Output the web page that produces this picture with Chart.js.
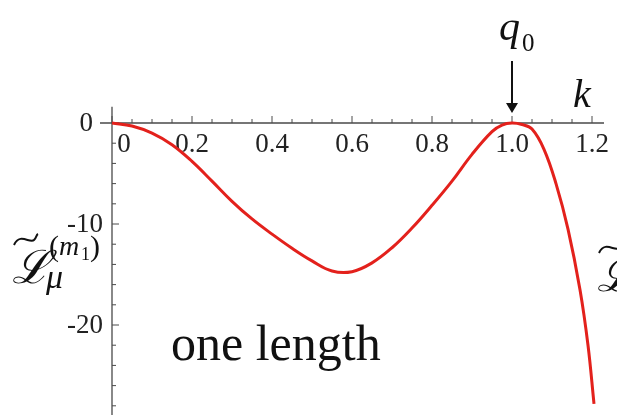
<!DOCTYPE html>
<html>
<head>
<meta charset="utf-8">
<script src="https://cdn.jsdelivr.net/npm/chart.js@4.4.0/dist/chart.umd.min.js"></script>
<style>
  html, body { margin: 0; padding: 0; background: #fff; }
  canvas { display: block; }
</style>
</head>
<body>
<canvas id="grafico" width="617" height="415"></canvas>
<script>
// datos
var kValues = [0, 0.05, 0.1, 0.15, 0.2, 0.25, 0.3, 0.35, 0.4, 0.45, 0.5, 0.55, 0.6, 0.65, 0.7, 0.75, 0.8, 0.85, 0.9, 0.95, 0.975, 1.0, 1.025, 1.05, 1.08, 1.11, 1.14, 1.17, 1.19, 1.205];
var lValues = [0, -0.3, -1.0, -2.15, -3.8, -5.75, -7.75, -9.5, -11.0, -12.4, -13.65, -14.65, -14.72, -13.85, -12.35, -10.4, -8.15, -5.75, -3.1, -0.85, -0.2, 0, -0.15, -0.6, -2.6, -6.0, -10.5, -16.5, -22, -27.8];

var xTicks = [0, 0.2, 0.4, 0.6, 0.8, 1.0, 1.2];
var xTickLabels = ["0", "0.2", "0.4", "0.6", "0.8", "1.0", "1.2"];
var yTicks = [0, -10, -20];
var yTickLabels = ["0", "-10", "-20"];
var markerK = 1.0;

var puntos = [];
for (var i = 0; i < kValues.length; i++) {
    puntos.push({ x: kValues[i], y: lValues[i] });
}

var SERIF = "'Liberation Serif', 'DejaVu Serif', serif";

// ejes tipo Mathematica, dibujados con las escalas de Chart.js
var ejes = {
    id: 'ejes',
    beforeDatasetsDraw: function(chart) {
        var ctx = chart.ctx;
        var sx = chart.scales.x, sy = chart.scales.y;
        var x0 = sx.getPixelForValue(0), y0 = sy.getPixelForValue(0);
        ctx.save();
        ctx.strokeStyle = '#4a4a4a';
        ctx.lineWidth = 1.3;
        ctx.beginPath();
        ctx.moveTo(sx.getPixelForValue(-0.03), y0);
        ctx.lineTo(sx.getPixelForValue(1.23), y0);
        ctx.moveTo(x0, sy.getPixelForValue(1.6));
        ctx.lineTo(x0, chart.height);
        ctx.stroke();

        ctx.lineWidth = 1;
        ctx.beginPath();
        for (var k = 0; k <= 1.2001; k += 0.05) {
            var px = sx.getPixelForValue(k);
            var major = Math.abs(k / 0.2 - Math.round(k / 0.2)) < 1e-6;
            ctx.moveTo(px, y0);
            ctx.lineTo(px, y0 - (major ? 7 : 4));
        }
        for (var v = 0; v >= -28; v -= 2) {
            var py = sy.getPixelForValue(v);
            var majorY = v % 10 === 0;
            ctx.moveTo(x0, py);
            ctx.lineTo(x0 + (majorY ? 7 : 4), py);
        }
        ctx.stroke();

        ctx.fillStyle = '#222';
        ctx.font = '27px ' + SERIF;
        ctx.textAlign = 'center';
        ctx.textBaseline = 'alphabetic';
        for (var j = 0; j < xTicks.length; j++) {
            var off = xTicks[j] === 0 ? 12 : 0;
            ctx.fillText(xTickLabels[j], sx.getPixelForValue(xTicks[j]) + off, y0 + 29);
        }
        ctx.textAlign = 'right';
        ctx.textBaseline = 'middle';
        for (var m = 0; m < yTicks.length; m++) {
            var rx = yTicks[m] === 0 ? x0 - 19 : x0 - 9;
            ctx.fillText(yTickLabels[m], rx, sy.getPixelForValue(yTicks[m]) + 1);
        }
        ctx.restore();
    },
    afterDraw: function(chart) {
        var ctx = chart.ctx;
        var sx = chart.scales.x, sy = chart.scales.y;
        var y0 = sy.getPixelForValue(0);
        var xq = sx.getPixelForValue(markerK);
        ctx.save();
        ctx.fillStyle = '#111';
        ctx.strokeStyle = '#111';

        // flecha q0
        ctx.lineWidth = 2;
        ctx.beginPath();
        ctx.moveTo(xq, 61);
        ctx.lineTo(xq, y0 - 16);
        ctx.stroke();
        ctx.beginPath();
        ctx.moveTo(xq - 6, y0 - 20);
        ctx.lineTo(xq + 6, y0 - 20);
        ctx.lineTo(xq, y0 - 10);
        ctx.closePath();
        ctx.fill();

        ctx.textBaseline = 'alphabetic';
        ctx.textAlign = 'left';
        ctx.font = 'italic 42px ' + SERIF;
        ctx.fillText('q', xq - 13, 40);
        ctx.font = '25px ' + SERIF;
        ctx.fillText('0', xq + 10, 51);

        ctx.font = 'italic 40px ' + SERIF;
        ctx.fillText('k', 573, 107);

        ctx.font = '50px ' + SERIF;
        ctx.fillText('one length', 171, 360);

        // etiqueta del eje y
        dibujarL(ctx, 12, 283, true);
        // etiqueta recortada a la derecha
        dibujarL(ctx, 597, 291, false);
        ctx.restore();
    }
};

function dibujarL(ctx, x, base, completo) {
    ctx.font = 'italic 46px ' + SERIF;
    ctx.fillText('\u2112', x, base);
    ctx.lineWidth = 2;
    ctx.beginPath();
    ctx.moveTo(x + 2, base - 38);
    ctx.bezierCurveTo(x + 8, base - 51, x + 18, base - 39, x + 22, base - 43);
    ctx.bezierCurveTo(x + 25, base - 46, x + 24, base - 48, x + 26, base - 49);
    ctx.stroke();
    if (!completo) return;
    ctx.font = 'italic 34px ' + SERIF;
    ctx.fillText('\u03bc', x + 34, base + 5);
    ctx.font = '30px ' + SERIF;
    ctx.fillText('(', x + 37, base - 27);
    ctx.font = 'italic 28px ' + SERIF;
    ctx.fillText('m', x + 47, base - 28);
    ctx.font = '18px ' + SERIF;
    ctx.fillText('1', x + 69, base - 23);
    ctx.font = '30px ' + SERIF;
    ctx.fillText(')', x + 78, base - 27);
}

var ctx = document.getElementById('grafico').getContext('2d');
window.myChart = new Chart(ctx, {
    type: 'line',
    data: {
        datasets: [{
            data: puntos,
            borderColor: '#e3211c',
            borderWidth: 3,
            pointRadius: 0,
            tension: 0.4,
            fill: false
        }]
    },
    options: {
        responsive: false,
        animation: false,
        devicePixelRatio: 1,
        layout: { padding: 0 },
        plugins: {
            legend: { display: false },
            tooltip: { enabled: false }
        },
        scales: {
            x: { type: 'linear', display: false, min: -0.28, max: 1.2625 },
            y: { type: 'linear', display: false, min: -28.91, max: 12.18 }
        }
    },
    plugins: [ejes]
});
</script>
</body>
</html>
